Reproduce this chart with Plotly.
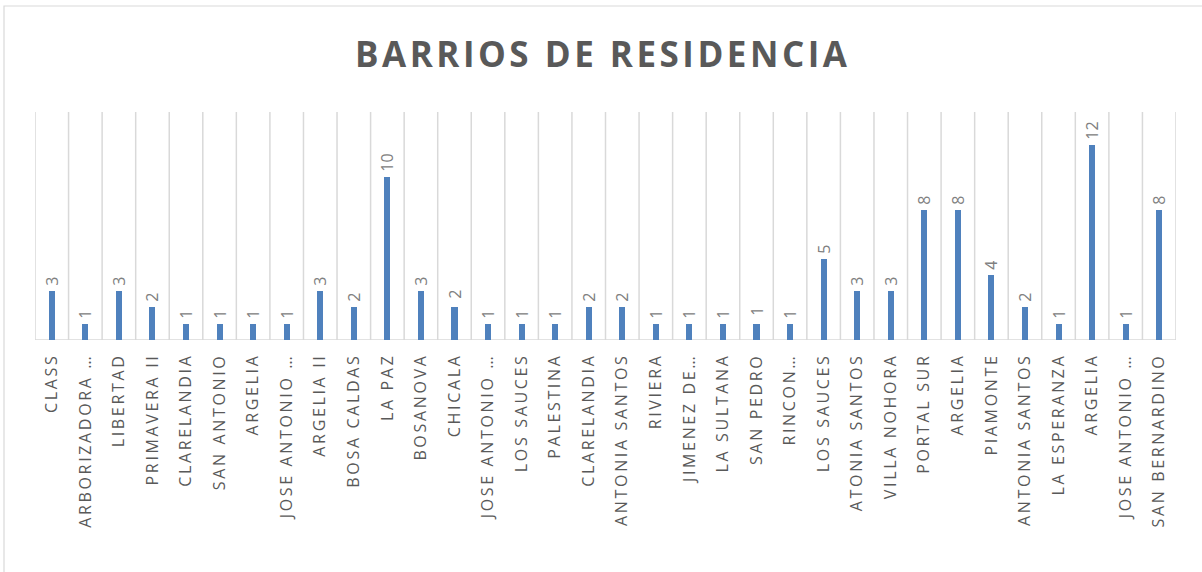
import plotly.graph_objects as go

categories = [
    "CLASS", "ARBORIZADORA …", "LIBERTAD", "PRIMAVERA II", "CLARELANDIA",
    "SAN ANTONIO", "ARGELIA", "JOSE ANTONIO …", "ARGELIA II", "BOSA CALDAS",
    "LA PAZ", "BOSANOVA", "CHICALA", "JOSE ANTONIO …", "LOS SAUCES",
    "PALESTINA", "CLARELANDIA", "ANTONIA SANTOS", "RIVIERA", "JIMENEZ DE…",
    "LA SULTANA", "SAN PEDRO", "RINCON…", "LOS SAUCES", "ATONIA SANTOS",
    "VILLA NOHORA", "PORTAL SUR", "ARGELIA", "PIAMONTE", "ANTONIA SANTOS",
    "LA ESPERANZA", "ARGELIA", "JOSE ANTONIO …", "SAN BERNARDINO",
]
values = [3, 1, 3, 2, 1, 1, 1, 1, 3, 2, 10, 3, 2, 1, 1, 1, 2, 2, 1, 1,
          1, 1, 1, 5, 3, 3, 8, 8, 4, 2, 1, 12, 1, 8]
title_text = "BARRIOS DE RESIDENCIA"


def spaced(s, sp):
    return sp.join(list(s))


positions = list(range(len(categories)))

fig = go.Figure()
fig.add_trace(go.Bar(
    x=positions,
    y=values,
    width=0.18,
    marker=dict(color="#4F81BD", line=dict(width=0)),
    text=["\u2009\u2009" + str(v) for v in values],
    textposition="outside",
    textangle=-90,
    textfont=dict(family="Open Sans", size=16, color="#808080"),
    cliponaxis=False,
    hoverinfo="skip",
))

shapes = []
for i in range(len(categories) + 1):
    shapes.append(dict(type="line", xref="x", yref="paper",
                       x0=i - 0.5, x1=i - 0.5, y0=0, y1=1,
                       line=dict(color="#D9D9D9", width=1.5), layer="below"))
shapes.append(dict(type="line", xref="paper", yref="y",
                   x0=0, x1=1, y0=0, y1=0,
                   line=dict(color="#D9D9D9", width=1.5), layer="below"))
# outer chart border
shapes.append(dict(type="rect", xref="paper", yref="paper",
                   x0=(4 - 35) / 1141, x1=(1240 - 35) / 1141,
                   y0=-(620 - 340) / 228, y1=(340 - 6) / 228,
                   line=dict(color="#D9D9D9", width=1.2), fillcolor="rgba(0,0,0,0)",
                   layer="below"))

fig.update_layout(
    width=1202, height=572,
    margin=dict(l=35, r=26, t=112, b=232),
    paper_bgcolor="white", plot_bgcolor="white",
    showlegend=False,
    bargap=0,
    uniformtext=dict(minsize=16, mode="show"),
    title=dict(text="<b>" + spaced(title_text, "\u200a") + "</b>", x=0.5, xanchor="center",
               y=1 - 55 / 572, yanchor="middle",
               font=dict(family="Open Sans", size=35, color="#595959")),
    xaxis=dict(
        range=[-0.5, len(categories) - 0.5],
        tickmode="array", tickvals=positions,
        ticktext=[spaced(c, "\u2009") for c in categories],
        tickangle=-90,
        tickfont=dict(family="Open Sans", size=16, color="#595959"),
        showgrid=False, zeroline=False, showline=False, ticks="",
        automargin=False, ticklabelstandoff=12,
        fixedrange=True,
    ),
    yaxis=dict(range=[0, 14], visible=False, showgrid=False, fixedrange=True),
    shapes=shapes,
)

fig.write_html("out.html", config={"displayModeBar": False},
               post_script="document.body.style.margin='0';document.body.style.padding='0';")
